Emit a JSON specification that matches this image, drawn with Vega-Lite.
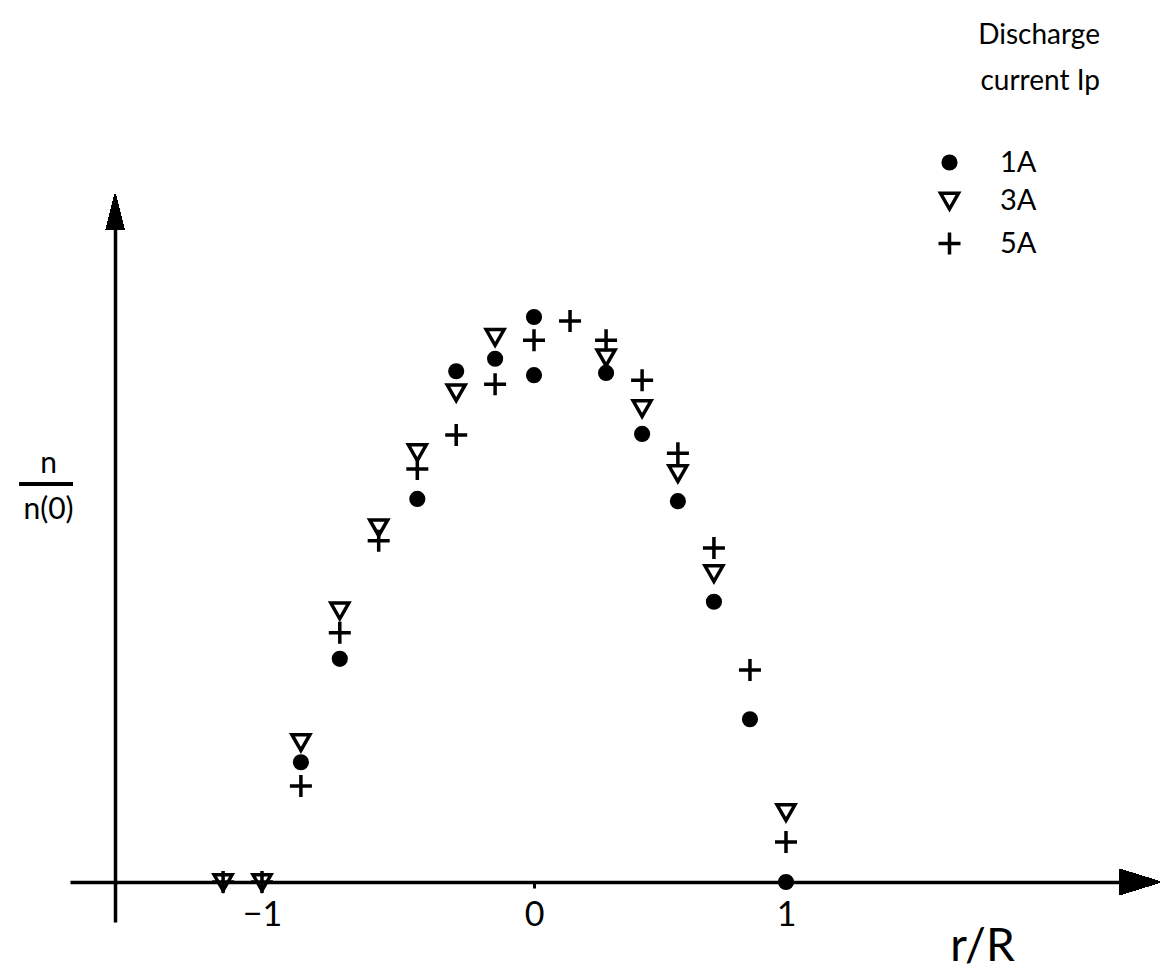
{
  "$schema": "https://vega.github.io/schema/vega-lite/v6.json",
  "width": 1070,
  "height": 717,
  "autosize": {"type": "none"},
  "padding": {"left": 70, "top": 205, "right": 22, "bottom": 54},
  "background": "white",
  "config": {"view": {"stroke": null}, "font": "Lato"},
  "title": {
    "text": ["Discharge", "current Ip"],
    "orient": "top",
    "anchor": "end",
    "frame": "group",
    "align": "right",
    "baseline": "alphabetic",
    "dx": -40,
    "dy": -30,
    "offset": 0,
    "fontSize": 28,
    "lineHeight": 46,
    "fontWeight": "normal",
    "font": "Lato",
    "color": "black"
  },
  "data": {
    "values": [
      {"r": -0.857, "n": 0.212, "current": "1A"},
      {"r": -0.714, "n": 0.395, "current": "1A"},
      {"r": -0.429, "n": 0.678, "current": "1A"},
      {"r": -0.286, "n": 0.904, "current": "1A"},
      {"r": -0.143, "n": 0.926, "current": "1A"},
      {"r": 0.0, "n": 1.0, "current": "1A"},
      {"r": 0.0, "n": 0.897, "current": "1A"},
      {"r": 0.286, "n": 0.901, "current": "1A"},
      {"r": 0.429, "n": 0.793, "current": "1A"},
      {"r": 0.571, "n": 0.674, "current": "1A"},
      {"r": 0.714, "n": 0.496, "current": "1A"},
      {"r": 0.857, "n": 0.288, "current": "1A"},
      {"r": 1.0, "n": 0.0, "current": "1A"},
      {"r": -1.143, "n": 0.0, "current": "3A"},
      {"r": -1.0, "n": 0.0, "current": "3A"},
      {"r": -0.857, "n": 0.248, "current": "3A"},
      {"r": -0.714, "n": 0.481, "current": "3A"},
      {"r": -0.571, "n": 0.628, "current": "3A"},
      {"r": -0.429, "n": 0.761, "current": "3A"},
      {"r": -0.286, "n": 0.867, "current": "3A"},
      {"r": -0.143, "n": 0.965, "current": "3A"},
      {"r": 0.286, "n": 0.929, "current": "3A"},
      {"r": 0.429, "n": 0.839, "current": "3A"},
      {"r": 0.571, "n": 0.724, "current": "3A"},
      {"r": 0.714, "n": 0.547, "current": "3A"},
      {"r": 1.0, "n": 0.124, "current": "3A"},
      {"r": -1.143, "n": 0.0, "current": "5A"},
      {"r": -1.0, "n": 0.0, "current": "5A"},
      {"r": -0.857, "n": 0.17, "current": "5A"},
      {"r": -0.714, "n": 0.441, "current": "5A"},
      {"r": -0.571, "n": 0.604, "current": "5A"},
      {"r": -0.429, "n": 0.731, "current": "5A"},
      {"r": -0.286, "n": 0.791, "current": "5A"},
      {"r": -0.143, "n": 0.881, "current": "5A"},
      {"r": 0.0, "n": 0.959, "current": "5A"},
      {"r": 0.143, "n": 0.993, "current": "5A"},
      {"r": 0.286, "n": 0.959, "current": "5A"},
      {"r": 0.429, "n": 0.888, "current": "5A"},
      {"r": 0.571, "n": 0.759, "current": "5A"},
      {"r": 0.714, "n": 0.591, "current": "5A"},
      {"r": 0.857, "n": 0.375, "current": "5A"},
      {"r": 1.0, "n": 0.071, "current": "5A"}
    ]
  },
  "layer": [
    {
      "mark": {"type": "point", "stroke": "black", "strokeWidth": 3.5, "opacity": 1, "fillOpacity": 1, "strokeOpacity": 1},
      "encoding": {
        "x": {
          "field": "r",
          "type": "quantitative",
          "scale": {"domain": [-1.7059, 0, 2.4048], "range": [0, 464, 1070], "nice": false, "zero": false},
          "axis": {
            "values": [-1, 0, 1],
            "format": "d",
            "offset": -40,
            "grid": false,
            "domainColor": "black",
            "domainWidth": 3.5,
            "tickColor": "black",
            "tickSize": 6,
            "tickWidth": 3,
            "labelFontSize": 34,
            "labelFont": "Lato",
            "labelColor": "black",
            "labelPadding": 10,
            "title": "r/R",
            "titleFontSize": 46,
            "titleFont": "Lato",
            "titleFontWeight": "normal",
            "titleColor": "black",
            "titleX": 912,
            "titleY": 78,
            "titleAlign": "center",
            "titleBaseline": "alphabetic"
          }
        },
        "y": {
          "field": "n",
          "type": "quantitative",
          "scale": {"domain": [-0.0708, 1.1982], "nice": false, "zero": false},
          "axis": {
            "offset": -45,
            "grid": false,
            "ticks": false,
            "labels": false,
            "domainColor": "black",
            "domainWidth": 3.5,
            "title": ["n", "n(0)"],
            "titleAngle": 0,
            "titleX": -67,
            "titleY": 267,
            "titleAlign": "center",
            "titleBaseline": "alphabetic",
            "titleFontSize": 30,
            "titleLineHeight": 46,
            "titleFont": "Lato",
            "titleFontWeight": "normal",
            "titleColor": "black"
          }
        },
        "shape": {
          "field": "current",
          "type": "nominal",
          "scale": {"domain": ["1A", "3A", "5A"], "range": ["circle", "M-1,-0.8L1,-0.8L0,0.95Z", "M-1,0H1M0,-1V1"]},
          "legend": {
            "orient": "none",
            "legendX": 865,
            "legendY": -57,
            "title": null,
            "labelFontSize": 29,
            "labelFont": "Lato",
            "labelColor": "black",
            "labelOffset": 36,
            "rowPadding": 8,
            "symbolStrokeColor": "black",
            "symbolStrokeWidth": 3.5,
            "symbolOpacity": 1
          }
        },
        "fill": {
          "field": "current",
          "type": "nominal",
          "scale": {"domain": ["1A", "3A", "5A"], "range": ["black", "white", "black"]}
        },
        "size": {
          "field": "current",
          "type": "nominal",
          "scale": {"domain": ["1A", "3A", "5A"], "range": [160, 484, 576]}
        }
      }
    },
    {
      "mark": {"type": "rule", "stroke": "black", "strokeWidth": 3},
      "encoding": {
        "x": {"datum": -1.89, "type": "quantitative"},
        "x2": {"datum": -1.695},
        "y": {"datum": 0.7044, "type": "quantitative"}
      }
    },
    {
      "mark": {"type": "point", "shape": "M-1,-0.62L1,0L-1,0.62Z", "size": 1600, "filled": true, "fill": "black", "stroke": "black", "strokeWidth": 1, "opacity": 1},
      "encoding": {
        "x": {"datum": 2.4048, "type": "quantitative"},
        "y": {"datum": 0, "type": "quantitative"}
      }
    },
    {
      "mark": {"type": "point", "shape": "M-0.5,1L0,-1L0.5,1Z", "size": 1225, "filled": true, "fill": "black", "stroke": "black", "strokeWidth": 1, "opacity": 1},
      "encoding": {
        "x": {"datum": -1.54, "type": "quantitative"},
        "y": {"datum": 1.1858, "type": "quantitative"}
      }
    }
  ]
}
